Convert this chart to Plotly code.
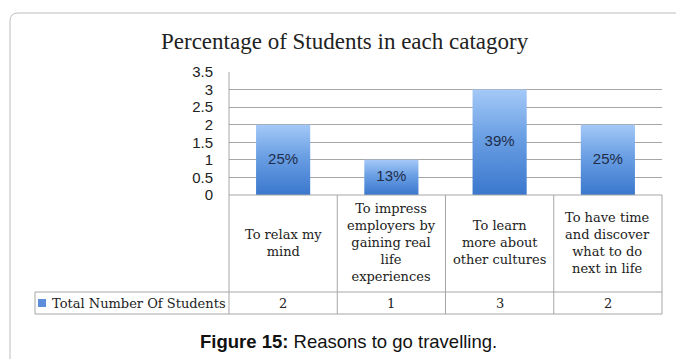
import plotly.graph_objects as go

# --- data ---------------------------------------------------------------
categories = [
    "To relax my<br>mind",
    "To impress<br>employers by<br>gaining real<br>life<br>experiences",
    "To learn<br>more about<br>other cultures",
    "To have time<br>and discover<br>what to do<br>next in life",
]
students = [2, 1, 3, 2]
pct_labels = ["25%", "13%", "39%", "25%"]
series_name = "Total Number Of Students"
y_ticks = [0, 0.5, 1, 1.5, 2, 2.5, 3, 3.5]

# --- page geometry (pixels) ----------------------------------------------
W, H = 676, 359
PL, PR, PT, PB = 229, 662, 72, 195          # plot area edges
ROW1_BOT, ROW2_BOT, LEG_LEFT = 292, 314, 35  # data-table rows
BAR_W = 0.5
GRID = "#A6A6A6"
SERIF = "DejaVu Serif"
NARROW = "Liberation Sans Narrow, Liberation Sans, Arial"


def px_x(px):
    return (px - PL) / (PR - PL)


def px_y(py):
    return (PB - py) / (PB - PT)


fig = go.Figure()

# gradient-filled columns
for i, v in enumerate(students):
    x0, x1 = i - BAR_W / 2, i + BAR_W / 2
    fig.add_trace(go.Scatter(
        x=[x0, x1, x1, x0, x0], y=[0, 0, v, v, 0],
        mode="none", fill="toself",
        fillgradient=dict(type="vertical",
                          colorscale=[[0, "#3A77CD"], [0.55, "#6A9FE3"], [1, "#A4C9F8"]]),
        hoverinfo="skip", showlegend=False,
    ))

# percentage labels in the middle of each column
fig.add_trace(go.Scatter(
    x=list(range(len(students))), y=[v / 2 for v in students],
    mode="text", text=pct_labels,
    textfont=dict(family=NARROW, size=15, color="#1F2D4A"),
    hoverinfo="skip", showlegend=False,
))

shapes = []


def line(x0, y0, x1, y1):
    shapes.append(dict(type="line", xref="paper", yref="paper",
                       x0=px_x(x0), y0=px_y(y0), x1=px_x(x1), y1=px_y(y1),
                       line=dict(color=GRID, width=1), layer="above"))


# data-table grid
col_edges = [PL + (PR - PL) * k / len(categories) for k in range(len(categories) + 1)]
line(PL, PT, PL, ROW2_BOT)
for xe in col_edges[1:]:
    line(xe, PB, xe, ROW2_BOT)
line(PL, PB, PR, PB)
line(LEG_LEFT, ROW1_BOT, PR, ROW1_BOT)
line(LEG_LEFT, ROW2_BOT, PR, ROW2_BOT)
line(LEG_LEFT, ROW1_BOT, LEG_LEFT, ROW2_BOT)

# legend key swatch
shapes.append(dict(type="rect", xref="paper", yref="paper",
                   x0=px_x(38), x1=px_x(46), y0=px_y(299), y1=px_y(307),
                   fillcolor="#5B8FDB", line=dict(width=0)))

# outer rounded frame
fx, fy, r = 10, 13, 8
path = (f"M {px_x(fx)},{px_y(H + 20)} L {px_x(fx)},{px_y(fy + r)} "
        f"Q {px_x(fx)},{px_y(fy)} {px_x(fx + r)},{px_y(fy)} L {px_x(W + 20)},{px_y(fy)}")
shapes.append(dict(type="path", xref="paper", yref="paper", path=path,
                   line=dict(color="#BDBDBD", width=1)))

annotations = []
# category labels
for i, c in enumerate(categories):
    annotations.append(dict(x=i, xref="x", y=px_y((PB + ROW1_BOT) / 2 - 1), yref="paper",
                            text=c, showarrow=False, align="center",
                            xanchor="center", yanchor="middle",
                            font=dict(family=SERIF, size=13, color="#222222")))
# values row
for i, v in enumerate(students):
    annotations.append(dict(x=i, xref="x", y=px_y((ROW1_BOT + ROW2_BOT) / 2), yref="paper",
                            text=str(v), showarrow=False,
                            xanchor="center", yanchor="middle",
                            font=dict(family=SERIF, size=13, color="#222222")))
annotations.append(dict(x=px_x(50), xref="paper", y=px_y((ROW1_BOT + ROW2_BOT) / 2), yref="paper",
                        text=series_name, showarrow=False,
                        xanchor="left", yanchor="middle",
                        font=dict(family=SERIF, size=13, color="#222222")))
# chart title
annotations.append(dict(x=px_x(345), xref="paper", y=px_y(41), yref="paper",
                        text="Percentage of Students in each catagory", showarrow=False,
                        xanchor="center", yanchor="middle",
                        font=dict(family="Liberation Serif", size=23, color="#222222")))
# figure caption
annotations.append(dict(x=px_x(348), xref="paper", y=px_y(341), yref="paper",
                        text="<b>Figure 15:</b> Reasons to go travelling.", showarrow=False,
                        xanchor="center", yanchor="middle",
                        font=dict(family="Liberation Sans, Arial", size=18.5, color="#111111")))

fig.update_layout(
    width=W, height=H,
    margin=dict(l=PL, r=W - PR, t=PT, b=H - PB, pad=0),
    paper_bgcolor="white", plot_bgcolor="white",
    showlegend=False,
    shapes=shapes, annotations=annotations,
    xaxis=dict(range=[-0.5, len(categories) - 0.5], visible=False, fixedrange=True),
    yaxis=dict(range=[0, 3.5], tickvals=y_ticks, showgrid=True, gridcolor=GRID,
               gridwidth=1, zeroline=False, showline=False,
               ticks="outside", ticklen=12, tickcolor="rgba(0,0,0,0)",
               tickfont=dict(family=NARROW, size=15, color="#222222"),
               fixedrange=True),
)

fig.write_html("out.html")
